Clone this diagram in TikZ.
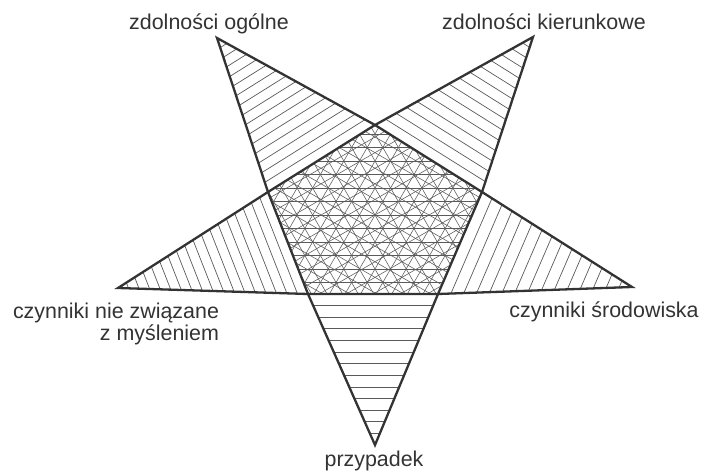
\documentclass[tikz,border=0pt]{standalone}
\usepackage{fontspec}
\setmainfont{Liberation Sans}
\usetikzlibrary{calc}

\definecolor{inkdark}{HTML}{333333}
\definecolor{inkhatch}{HTML}{5A5A5A}

\tikzset{
  starline/.style={draw=inkdark, line width=2.3bp, line join=miter},
  hatchline/.style={draw=inkhatch, line width=0.7bp},
  meshline/.style={draw=inkhatch, line width=0.55bp},
  lbl/.style={text=inkdark, font=\fontsize{21.5}{23}\selectfont, inner sep=0pt}
}

% parallel hatching of one tip: apex, base end, base end, number of lines
\newcommand{\hatchtip}[4]{%
  \foreach \i in {1,...,#4} {
    \pgfmathsetmacro{\t}{\i/(#4+1)}
    \draw[hatchline] ($(#2)!\t!(#1)$) -- ($(#3)!\t!(#1)$);
  }}

\begin{document}
\begin{tikzpicture}[x=1bp, y=-1bp]
    \useasboundingbox (0,0) rectangle (702,473);
    \fill[white] (0,0) rectangle (702,473);

    % Star tips
    \coordinate (tipTL) at (217,38);
    \coordinate (tipTR) at (533,37);
    \coordinate (tipR)  at (632,287);
    \coordinate (tipB)  at (375,445);
    \coordinate (tipL)  at (118,288);

    % Pentagon corners
    \coordinate (pTop)   at (375,125);
    \coordinate (pRight) at (482,192);
    \coordinate (pBR)    at (438,294);
    \coordinate (pBL)    at (308,294);
    \coordinate (pLeft)  at (268,192);

    % Hatching of the five tips
    \hatchtip{tipTL}{pLeft}{pTop}{15}
    \hatchtip{tipTR}{pTop}{pRight}{14}
    \hatchtip{tipR}{pRight}{pBR}{14}
    \hatchtip{tipB}{pBR}{pBL}{12}
    \hatchtip{tipL}{pBL}{pLeft}{17}

    % Mesh in the middle
    \begin{scope}
        \clip (pTop) -- (pRight) -- (pBR) -- (pBL) -- (pLeft) -- cycle;
        \foreach \a in {0,30,60,120,150} {
            \foreach \k in {-10,...,10} {
                \draw[meshline, rotate around={\a:(375,215)}]
                    (175,215+\k*13.5) -- (575,215+\k*13.5);
            }
        }
    \end{scope}

    % Star outline and pentagon
    \draw[starline] (tipTL) -- (pTop) -- (tipTR) -- (pRight) -- (tipR) -- (pBR)
        -- (tipB) -- (pBL) -- (tipL) -- (pLeft) -- cycle;
    \draw[starline] (pTop) -- (pRight) -- (pBR) -- (pBL) -- (pLeft) -- cycle;

    % Labels
    \node[lbl] (capTL) at (209,24) {zdolności ogólne};
    \node[lbl] (capTR) at (544,22) {zdolności kierunkowe};
    \node[lbl, align=right] (capL) at (116,324) {czynniki nie związane\\z myśleniem};
    \node[lbl] (capR) at (604,312) {czynniki środowiska};
    \node[lbl] (capB) at (374,461) {przypadek};
\end{tikzpicture}
\end{document}
